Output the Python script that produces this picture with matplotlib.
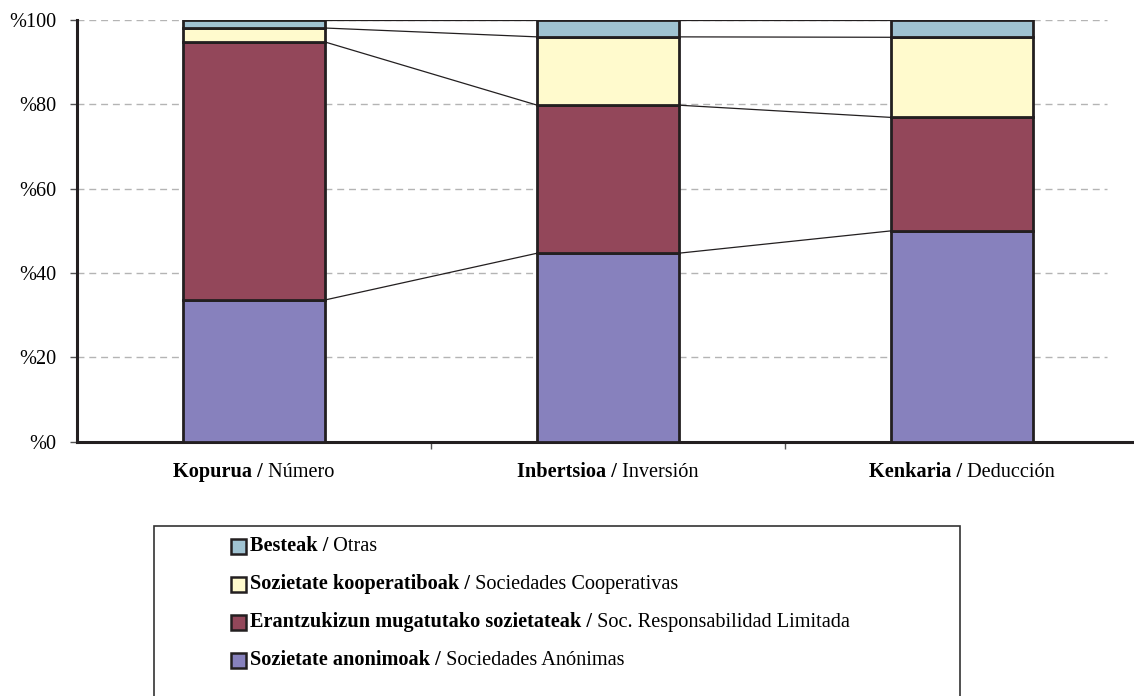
import matplotlib
matplotlib.use("Agg")
import matplotlib.pyplot as plt
from matplotlib.patches import Rectangle
import numpy as np

# ---- data ----
cat_bold = ["Kopurua /", "Inbertsioa /", "Kenkaria /"]
cat_reg = ["Número", "Inversión", "Deducción"]
sa = [33.6, 44.7, 50.0]          # Sozietate anonimoak
srl = [61.2, 35.1, 26.9]         # Erantzukizun mugatutako sozietateak
coop = [3.3, 16.2, 19.0]         # Sozietate kooperatiboak
otras = [1.9, 4.0, 4.1]          # Besteak
yticks = [0, 20, 40, 60, 80, 100]
ytick_labels = ["%0", "%20", "%40", "%60", "%80", "%100"]

series_names_bold = ["Sozietate anonimoak /", "Erantzukizun mugatutako sozietateak /",
                     "Sozietate kooperatiboak /", "Besteak /"]
series_names_reg = ["Sociedades Anónimas", "Soc. Responsabilidad Limitada",
                    "Sociedades Cooperativas", "Otras"]
colors = ["#8781bd", "#93475a", "#fffacd", "#a0c3d2"]
edge = "#231f20"

plt.rcParams['font.family'] = ['Liberation Serif', 'DejaVu Serif']
FS = 14.6

W, H = 1134, 696
fig = plt.figure(figsize=(W / 100, H / 100), dpi=100)
ax_left, ax_right, ax_top, ax_bot = 77, 1139, 20, 441.7
ax = fig.add_axes([ax_left / W, 1 - ax_bot / H, (ax_right - ax_left) / W, (ax_bot - ax_top) / H])

x = np.arange(len(cat_bold))
bw = 0.40
series = [sa, srl, coop, otras]
bottom = np.zeros(len(x))
cums = []
for vals, c in zip(series, colors):
    v = np.array(vals)
    ax.bar(x, v, bw, bottom=bottom, color=c, edgecolor=edge, linewidth=2.0, zorder=3)
    bottom = bottom + v
    cums.append(bottom.copy())

# series connecting lines
for cum in cums:
    for i in range(len(x) - 1):
        ax.plot([x[i] + bw / 2, x[i + 1] - bw / 2], [cum[i], cum[i + 1]],
                color=edge, lw=0.9, zorder=2)

# grid lines
for yv in yticks[1:]:
    ax.plot([-0.5, 2.41], [yv, yv], color="#b4b4b4", lw=1.0, ls=(0, (5, 3.5)), zorder=1)

ax.set_xlim(-0.5, 2.5)
ax.set_ylim(0, 100)
ax.set_yticks(yticks)
ax.set_yticklabels(ytick_labels, fontsize=FS)
ax.set_xticks([0.5, 1.5])
ax.set_xticklabels([])
ax.tick_params(axis='x', length=5, width=1, color="#555555", direction='out')
ax.tick_params(axis='y', length=5, width=1, color="#555555", direction='out', pad=10)
for s in ["top", "right"]:
    ax.spines[s].set_visible(False)
ax.spines["left"].set_linewidth(2.2)
ax.spines["bottom"].set_linewidth(2.2)
ax.spines["left"].set_color(edge)
ax.spines["bottom"].set_color(edge)

fig.canvas.draw()
renderer = fig.canvas.get_renderer()


def two_part(xc, yc, bold, reg, center=True):
    # positions in pixels (top-left origin); yc is the visual centre of capitals
    yb = yc + 5
    t1 = fig.text(0, 0, bold, fontsize=FS, fontweight='bold', va='baseline', ha='left')
    t2 = fig.text(0, 0, " " + reg, fontsize=FS, va='baseline', ha='left')
    w1 = t1.get_window_extent(renderer).width
    w2 = t2.get_window_extent(renderer).width
    x0 = xc - (w1 + w2) / 2 if center else xc
    t1.set_position((x0 / W, 1 - yb / H))
    t2.set_position(((x0 + w1) / W, 1 - yb / H))


# category labels
for i in range(len(x)):
    px = ax.transData.transform((x[i], 0))[0]
    two_part(px, 472, cat_bold[i], cat_reg[i])

# legend box
fig.add_artist(Rectangle((154 / W, 1 - 700 / H), (960 - 154) / W, (700 - 526) / H,
                         transform=fig.transFigure, facecolor='white', edgecolor='#333333', lw=1.2))
leg_y = [546, 584, 622, 660]
order = [3, 2, 1, 0]
for yy, k in zip(leg_y, order):
    fig.add_artist(Rectangle((231 / W, 1 - (yy + 7.5) / H), 15 / W, 15 / H, transform=fig.transFigure,
                             facecolor=colors[k], edgecolor=edge, lw=1.8))
    two_part(250, yy, series_names_bold[k], series_names_reg[k], center=False)

fig.savefig("out.png", dpi=100)
